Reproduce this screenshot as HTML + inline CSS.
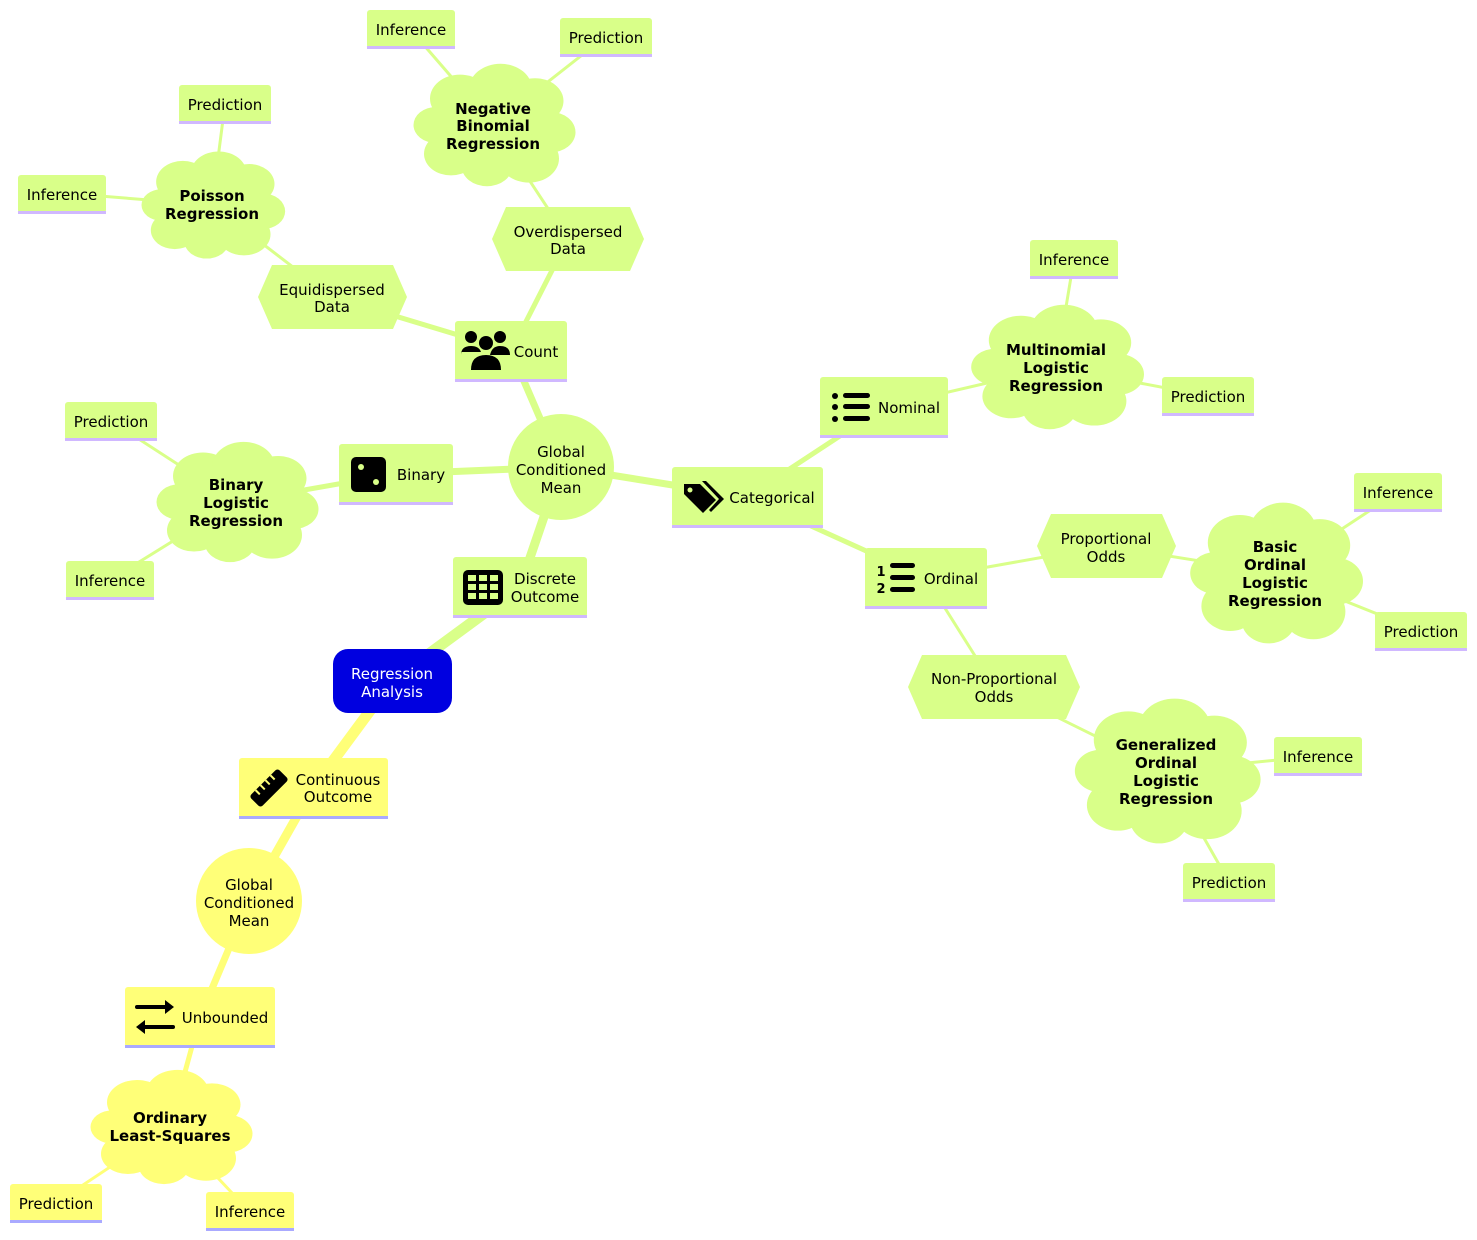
<!DOCTYPE html>
<html><head><meta charset="utf-8"><style>
html,body{margin:0;padding:0;background:#fff}
svg{display:block}
text{font-family:"DejaVu Sans","Liberation Sans",sans-serif;font-size:15px;fill:#000;text-anchor:middle}
.b{font-weight:bold}
.w{fill:#fff}
</style></head><body>
<svg width="1477" height="1240" viewBox="0 0 1477 1240" xmlns="http://www.w3.org/2000/svg">
<defs>
<g id="cl">
<ellipse cx="0" cy="0" rx="36" ry="34"/>
<circle cx="-22" cy="-22" r="20"/>
<circle cx="5" cy="-30" r="21"/>
<circle cx="28" cy="-20" r="19"/>
<circle cx="38" cy="6" r="17"/>
<circle cx="24" cy="28" r="20"/>
<circle cx="-4" cy="34" r="17"/>
<circle cx="-28" cy="24" r="18"/>
<circle cx="-38" cy="0" r="15"/>
</g>
</defs>
<g stroke="#d9ff89" stroke-linecap="round" fill="none">
<line x1="392" y1="681" x2="520" y2="587" stroke-width="11"/>
<line x1="520" y1="587" x2="561" y2="467" stroke-width="9"/>
<line x1="561" y1="467" x2="511" y2="351" stroke-width="7"/>
<line x1="561" y1="467" x2="395" y2="474" stroke-width="7"/>
<line x1="561" y1="467" x2="747" y2="497" stroke-width="7"/>
<line x1="511" y1="351" x2="332" y2="297" stroke-width="5"/>
<line x1="511" y1="351" x2="568" y2="239" stroke-width="5"/>
<line x1="395" y1="474" x2="236" y2="502" stroke-width="5"/>
<line x1="747" y1="497" x2="884" y2="407" stroke-width="5"/>
<line x1="747" y1="497" x2="926" y2="578" stroke-width="5"/>
<g stroke-width="3">
<line x1="332" y1="297" x2="212" y2="205"/>
<line x1="568" y1="239" x2="493" y2="125"/>
<line x1="884" y1="407" x2="1056" y2="367"/>
<line x1="926" y1="578" x2="1106" y2="546"/>
<line x1="926" y1="578" x2="994" y2="686"/>
<line x1="212" y1="205" x2="225" y2="104"/>
<line x1="212" y1="205" x2="62" y2="193"/>
<line x1="493" y1="125" x2="410" y2="29"/>
<line x1="493" y1="125" x2="605" y2="37"/>
<line x1="236" y1="502" x2="111" y2="421"/>
<line x1="236" y1="502" x2="110" y2="580"/>
<line x1="1056" y1="367" x2="1074" y2="259"/>
<line x1="1056" y1="367" x2="1208" y2="396"/>
<line x1="1106" y1="546" x2="1275" y2="573"/>
<line x1="1275" y1="573" x2="1398" y2="492"/>
<line x1="1275" y1="573" x2="1420" y2="631"/>
<line x1="994" y1="686" x2="1166" y2="771"/>
<line x1="1166" y1="771" x2="1318" y2="756"/>
<line x1="1166" y1="771" x2="1229" y2="882"/>
</g>
</g>
<g stroke="#ffff78" stroke-linecap="round" fill="none">
<line x1="392" y1="681" x2="313" y2="788" stroke-width="11"/>
<line x1="313" y1="788" x2="249" y2="901" stroke-width="9"/>
<line x1="249" y1="901" x2="200" y2="1017" stroke-width="7"/>
<line x1="200" y1="1017" x2="170" y2="1127" stroke-width="5"/>
<line x1="170" y1="1127" x2="56" y2="1203" stroke-width="3"/>
<line x1="170" y1="1127" x2="249" y2="1211" stroke-width="3"/>
</g>

<rect x="333" y="649" width="119" height="64" rx="15" fill="#0000e0"/>
<text x="392" y="679" class="w">Regression</text>
<text x="392" y="697" class="w">Analysis</text>

<circle cx="561" cy="467" r="53" fill="#d9ff89"/>
<text x="561" y="457">Global</text><text x="561" y="475">Conditioned</text><text x="561" y="493">Mean</text>
<circle cx="249" cy="901" r="53" fill="#ffff78"/>
<text x="249" y="890">Global</text><text x="249" y="908">Conditioned</text><text x="249" y="926">Mean</text>

<g fill="#d9ff89">
<use href="#cl" transform="translate(212,205) scale(1.33,1.05)"/>
<use href="#cl" transform="translate(493,125) scale(1.5,1.2)"/>
<use href="#cl" transform="translate(236,502) scale(1.5,1.18)"/>
<use href="#cl" transform="translate(1056,367) scale(1.6,1.22)"/>
<use href="#cl" transform="translate(1275,573) scale(1.6,1.38)"/>
<use href="#cl" transform="translate(1166,771) scale(1.72,1.42)"/>
</g>
<use href="#cl" fill="#ffff78" transform="translate(170,1127) scale(1.5,1.12)"/>
<text x="212" y="201" class="b">Poisson</text><text x="212" y="219" class="b">Regression</text>
<text x="493" y="114" class="b">Negative</text><text x="493" y="131" class="b">Binomial</text><text x="493" y="149" class="b">Regression</text>
<text x="236" y="490" class="b">Binary</text><text x="236" y="508" class="b">Logistic</text><text x="236" y="526" class="b">Regression</text>
<text x="1056" y="355" class="b">Multinomial</text><text x="1056" y="373" class="b">Logistic</text><text x="1056" y="391" class="b">Regression</text>
<text x="1275" y="552" class="b">Basic</text><text x="1275" y="570" class="b">Ordinal</text><text x="1275" y="588" class="b">Logistic</text><text x="1275" y="606" class="b">Regression</text>
<text x="1166" y="750" class="b">Generalized</text><text x="1166" y="768" class="b">Ordinal</text><text x="1166" y="786" class="b">Logistic</text><text x="1166" y="804" class="b">Regression</text>
<text x="170" y="1123" class="b">Ordinary</text><text x="170" y="1141" class="b">Least-Squares</text>

<g fill="#d9ff89">
<polygon points="272,265 393,265 407,297 393,329 272,329 258,297"/>
<polygon points="506,207 630,207 644,239 630,271 506,271 492,239"/>
<polygon points="1051,514 1162,514 1176,546 1162,578 1051,578 1037,546"/>
<polygon points="922,655 1066,655 1080,687 1066,719 922,719 908,687"/>
</g>
<text x="332" y="295">Equidispersed</text><text x="332" y="312">Data</text>
<text x="568" y="237">Overdispersed</text><text x="568" y="254">Data</text>
<text x="1106" y="544">Proportional</text><text x="1106" y="562">Odds</text>
<text x="994" y="684">Non-Proportional</text><text x="994" y="702">Odds</text>

<g fill="#d9ff89">
<rect x="455" y="321" width="112" height="60" rx="3"/>
<rect x="339" y="444" width="114" height="60" rx="3"/>
<rect x="453" y="557" width="134" height="60" rx="3"/>
<rect x="672" y="467" width="151" height="60" rx="3"/>
<rect x="820" y="377" width="128" height="60" rx="3"/>
<rect x="865" y="548" width="122" height="60" rx="3"/>
<rect x="179" y="85" width="92" height="38" rx="3"/>
<rect x="18" y="175" width="88" height="38" rx="3"/>
<rect x="367" y="10" width="88" height="38" rx="3"/>
<rect x="560" y="18" width="92" height="38" rx="3"/>
<rect x="65" y="402" width="92" height="38" rx="3"/>
<rect x="66" y="561" width="88" height="38" rx="3"/>
<rect x="1030" y="240" width="88" height="38" rx="3"/>
<rect x="1162" y="377" width="92" height="38" rx="3"/>
<rect x="1354" y="473" width="88" height="38" rx="3"/>
<rect x="1375" y="612" width="92" height="38" rx="3"/>
<rect x="1274" y="737" width="88" height="38" rx="3"/>
<rect x="1183" y="863" width="92" height="38" rx="3"/>
</g>
<g fill="#d0b8ff">
<rect x="455" y="379" width="112" height="3"/>
<rect x="339" y="502" width="114" height="3"/>
<rect x="453" y="615" width="134" height="3"/>
<rect x="672" y="525" width="151" height="3"/>
<rect x="820" y="435" width="128" height="3"/>
<rect x="865" y="606" width="122" height="3"/>
<rect x="179" y="121" width="92" height="3"/>
<rect x="18" y="211" width="88" height="3"/>
<rect x="367" y="46" width="88" height="3"/>
<rect x="560" y="54" width="92" height="3"/>
<rect x="65" y="438" width="92" height="3"/>
<rect x="66" y="597" width="88" height="3"/>
<rect x="1030" y="276" width="88" height="3"/>
<rect x="1162" y="413" width="92" height="3"/>
<rect x="1354" y="509" width="88" height="3"/>
<rect x="1375" y="648" width="92" height="3"/>
<rect x="1274" y="773" width="88" height="3"/>
<rect x="1183" y="899" width="92" height="3"/>
</g>
<g fill="#ffff78">
<rect x="239" y="758" width="149" height="60" rx="3"/>
<rect x="125" y="987" width="150" height="60" rx="3"/>
<rect x="10" y="1184" width="92" height="38" rx="3"/>
<rect x="206" y="1192" width="88" height="38" rx="3"/>
</g>
<g fill="#aaaaff">
<rect x="239" y="816" width="149" height="3"/>
<rect x="125" y="1045" width="150" height="3"/>
<rect x="10" y="1220" width="92" height="3"/>
<rect x="206" y="1228" width="88" height="3"/>
</g>

<text x="536" y="357">Count</text>
<text x="421" y="480">Binary</text>
<text x="545" y="584">Discrete</text><text x="545" y="602">Outcome</text>
<text x="772" y="503">Categorical</text>
<text x="909" y="413">Nominal</text>
<text x="951" y="584">Ordinal</text>
<text x="338" y="785">Continuous</text><text x="338" y="802">Outcome</text>
<text x="225" y="1023">Unbounded</text>
<text x="225" y="110">Prediction</text>
<text x="62" y="200">Inference</text>
<text x="411" y="35">Inference</text>
<text x="606" y="43">Prediction</text>
<text x="111" y="427">Prediction</text>
<text x="110" y="586">Inference</text>
<text x="1074" y="265">Inference</text>
<text x="1208" y="402">Prediction</text>
<text x="1398" y="498">Inference</text>
<text x="1421" y="637">Prediction</text>
<text x="1318" y="762">Inference</text>
<text x="1229" y="888">Prediction</text>
<text x="56" y="1209">Prediction</text>
<text x="250" y="1217">Inference</text>

<g fill="#000">
<circle cx="471" cy="337" r="6"/><circle cx="500" cy="337" r="6"/><circle cx="486" cy="343" r="7"/>
<path d="M461 355 q0 -9 10 -9 q8 0 10 6 h-20z"/><path d="M490 355 q2 -9 10 -9 q10 0 10 9z"/>
<path d="M471 370 q0 -15 15 -15 q15 0 15 15z"/>
<rect x="351" y="457" width="35" height="35" rx="5"/>
<circle cx="361" cy="467" r="3" fill="#d9ff89"/><circle cx="376" cy="482" r="3" fill="#d9ff89"/>
<rect x="463" y="570" width="40" height="35" rx="5"/>
<g fill="#d9ff89"><rect x="468" y="575" width="8" height="6"/><rect x="479" y="575" width="8" height="6"/><rect x="490" y="575" width="8" height="6"/>
<rect x="468" y="584" width="8" height="6"/><rect x="479" y="584" width="8" height="6"/><rect x="490" y="584" width="8" height="6"/>
<rect x="468" y="593" width="8" height="6"/><rect x="479" y="593" width="8" height="6"/><rect x="490" y="593" width="8" height="6"/></g>
<path d="M684 484 h16 l16 16 l-13 13 l-19 -19z"/><path d="M702 481 h4 l18 18 l-13 13 l-2 -2 l10 -11z"/>
<circle cx="690" cy="490" r="2.5" fill="#d9ff89"/>
<circle cx="835" cy="396" r="3"/><circle cx="835" cy="407" r="3"/><circle cx="835" cy="419" r="3"/>
<rect x="843" y="393" width="27" height="5" rx="2.5"/><rect x="843" y="404" width="27" height="5" rx="2.5"/><rect x="843" y="416" width="27" height="5" rx="2.5"/>
<text x="881" y="576" class="b" style="font-size:13px">1</text><text x="881" y="593" class="b" style="font-size:13px">2</text>
<rect x="890" y="563" width="25" height="5" rx="2.5"/><rect x="890" y="575" width="25" height="5" rx="2.5"/><rect x="890" y="587" width="25" height="5" rx="2.5"/>
<g transform="translate(269,788) rotate(-45)"><rect x="-20" y="-8" width="40" height="16" rx="3"/>
<g fill="#ffff78"><rect x="-12" y="-8" width="2" height="6"/><rect x="-5" y="-8" width="2" height="6"/><rect x="2" y="-8" width="2" height="6"/><rect x="9" y="-8" width="2" height="6"/></g></g>
<rect x="135" y="1005" width="32" height="4" rx="2"/><path d="M165 1000 l9 7 l-9 7z"/>
<rect x="143" y="1025" width="32" height="4" rx="2"/><path d="M145 1020 l-9 7 l9 7z"/>
</g>
</svg>
</body></html>
